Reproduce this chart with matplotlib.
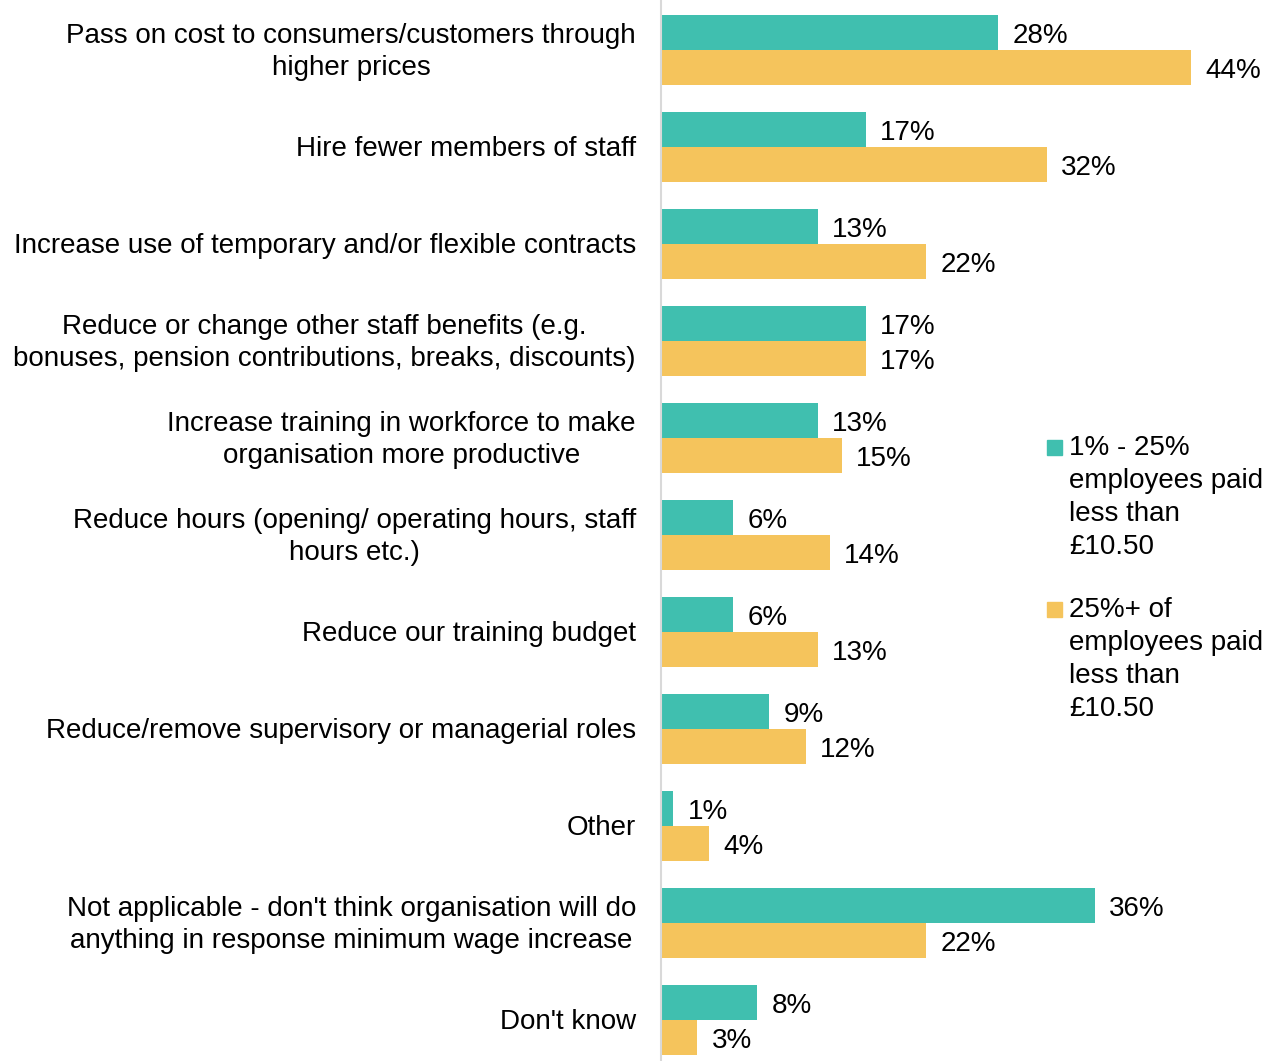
import matplotlib.pyplot as plt
from matplotlib.patches import Rectangle

plt.rcParams['font.family'] = ['Liberation Sans', 'DejaVu Sans']

categories = [
    "Pass on cost to consumers/customers through\nhigher prices",
    "Hire fewer members of staff",
    "Increase use of temporary and/or flexible contracts",
    "Reduce or change other staff benefits (e.g.\nbonuses, pension contributions, breaks, discounts)",
    "Increase training in workforce to make\norganisation more productive",
    "Reduce hours (opening/ operating hours, staff\nhours etc.)",
    "Reduce our training budget",
    "Reduce/remove supervisory or managerial roles",
    "Other",
    "Not applicable - don't think organisation will do\nanything in response minimum wage increase",
    "Don't know",
]
low_share = [28, 17, 13, 17, 13, 6, 6, 9, 1, 36, 8]
high_share = [44, 32, 22, 17, 15, 14, 13, 12, 4, 22, 3]
series_names = ["1% - 25%\nemployees paid\nless than\n£10.50",
                "25%+ of\nemployees paid\nless than\n£10.50"]

teal = '#40BFAF'
yellow = '#F5C45C'
fs = 20

fig = plt.figure(figsize=(12.85, 10.61), dpi=100)
ax = fig.add_axes([661 / 1285, 0, 1 - 661 / 1285, 1])

h = 35 / 97
ys = list(range(len(categories)))
ax.barh([y - h / 2 for y in ys], low_share, height=h, color=teal)
ax.barh([y + h / 2 for y in ys], high_share, height=h, color=yellow)

for y, a, b in zip(ys, low_share, high_share):
    ax.text(a + 1.2, y - h / 2 + 0.035, f"{a}%", va='center', ha='left', fontsize=fs)
    ax.text(b + 1.2, y + h / 2 + 0.035, f"{b}%", va='center', ha='left', fontsize=fs)

ax.set_xlim(0, 624 / 12.05)
ax.set_ylim(10 + h + 6 / 97, -h - 15 / 97)
ax.set_yticks([y + 0.02 for y in ys])
ax.set_yticklabels(categories, fontsize=fs, multialignment='center', linespacing=1.3)
for lab in ax.get_yticklabels():
    lab.set_verticalalignment('center')
ax.tick_params(axis='y', length=0, pad=18)
ax.set_xticks([])
for s in ['top', 'right', 'bottom']:
    ax.spines[s].set_visible(False)
ax.spines['left'].set_color('#D9D9D9')
ax.spines['left'].set_linewidth(1.5)

# legend drawn by hand so the swatch sits at the first line
for name, col, top, sq in zip(series_names, [teal, yellow], [435, 597], [440, 602]):
    fig.patches.append(Rectangle((1047 / 1285, 1 - (sq + 15) / 1061), 15 / 1285, 15 / 1061,
                                 color=col, transform=fig.transFigure))
    fig.text(1069 / 1285, 1 - top / 1061, name, fontsize=fs, va='top', ha='left', linespacing=1.35)

fig.savefig('out.png', dpi=100)
